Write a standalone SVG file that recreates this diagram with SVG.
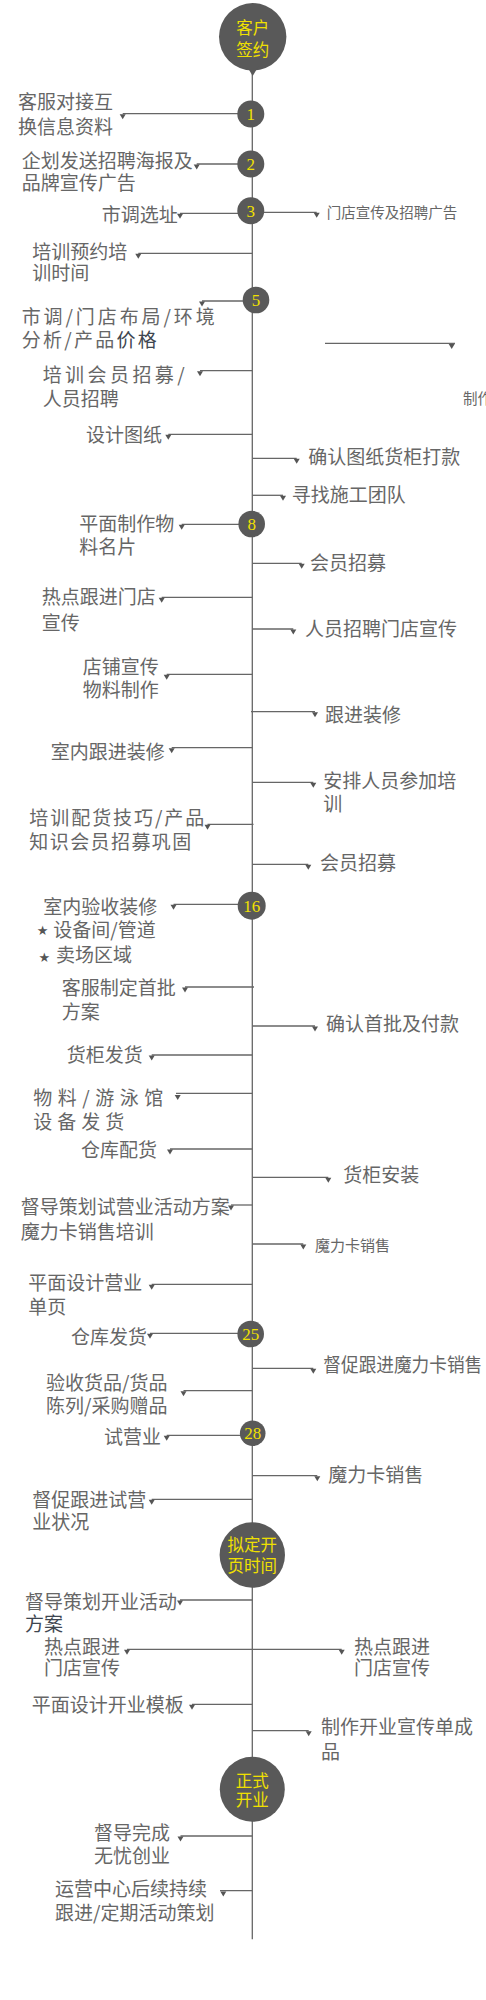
<svg xmlns="http://www.w3.org/2000/svg" width="486" height="2000" viewBox="0 0 486 2000">
<style>
.t{font-family:"Noto Sans CJK SC","Noto Sans CJK JP",sans-serif;font-size:19px;fill:#666}
.s{font-size:14.5px}
.m15{font-size:15px}
.d{fill:#3e4650}
.c{fill:#595959}
.n{font-family:"Liberation Serif","Times New Roman",serif;font-size:17px;fill:#f0e000;text-anchor:middle}
.y{font-family:"Noto Sans CJK SC","Noto Sans CJK JP",sans-serif;font-size:16.5px;fill:#f0e000;text-anchor:middle}
.l{stroke:#666;stroke-width:1.3;fill:none}
.a{marker-end:url(#m)}
.b{marker-start:url(#m)}
.st{font-family:"DejaVu Sans",sans-serif;font-size:13px;fill:#555;text-anchor:middle}
</style>
<defs>
<marker id="m" markerUnits="userSpaceOnUse" markerWidth="8" markerHeight="8" viewBox="0 0 8 8" refX="4" refY="0.5" orient="0">
<path d="M1,1 L7,1 L4,6 z" fill="#555"/>
</marker>
</defs>
<g id="connectors">
<line class="l" x1="252.3" y1="70" x2="252.3" y2="1939.3"/>
<line class="l a" x1="252.3" y1="113.7" x2="122.7" y2="113.7"/>
<line class="l a" x1="252.3" y1="164" x2="196.7" y2="164"/>
<line class="l a" x1="252.3" y1="213.3" x2="180" y2="213.3"/>
<line class="l a" x1="252.3" y1="212.3" x2="316.7" y2="212.3"/>
<line class="l a" x1="252.3" y1="253.3" x2="138.3" y2="253.3"/>
<line class="l a" x1="252.3" y1="301" x2="202" y2="301"/>
<line class="l" x1="325" y1="343.3" x2="455" y2="343.3"/>
<path d="M448.7,344 L454.7,344 L451.7,349 z" fill="#555"/>
<line class="l a" x1="252.3" y1="370.7" x2="200" y2="370.7"/>
<line class="l a" x1="252.3" y1="434.3" x2="168.3" y2="434.3"/>
<line class="l a" x1="252.3" y1="458.3" x2="296.7" y2="458.3"/>
<line class="l a" x1="252.3" y1="495.3" x2="283" y2="495.3"/>
<line class="l a" x1="252.3" y1="524.3" x2="181.7" y2="524.3"/>
<line class="l a" x1="252.3" y1="563.3" x2="301.7" y2="563.3"/>
<line class="l a" x1="252.3" y1="597.3" x2="161.7" y2="597.3"/>
<line class="l a" x1="252.3" y1="629" x2="293.3" y2="629"/>
<line class="l a" x1="252.3" y1="674.3" x2="166.7" y2="674.3"/>
<line class="l a" x1="251" y1="711.7" x2="315" y2="711.7"/>
<line class="l a" x1="252.3" y1="747.7" x2="171.7" y2="747.7"/>
<line class="l a" x1="252.3" y1="782.3" x2="313.3" y2="782.3"/>
<line class="l a" x1="253.5" y1="824.3" x2="207.5" y2="824.3"/>
<line class="l a" x1="252.3" y1="864.3" x2="308.3" y2="864.3"/>
<line class="l a" x1="252.3" y1="904.3" x2="173.5" y2="904.3"/>
<line class="l a" x1="254" y1="987" x2="185" y2="987"/>
<line class="l a" x1="252.3" y1="1026" x2="315" y2="1026"/>
<line class="l a" x1="252.3" y1="1055" x2="151.7" y2="1055"/>
<line class="l" x1="252.3" y1="1093.3" x2="176" y2="1093.3"/>
<path d="M174.7,1095 L180.7,1095 L177.7,1100 z" fill="#555"/>
<line class="l a" x1="252.3" y1="1149" x2="170" y2="1149"/>
<line class="l a" x1="252.3" y1="1177.3" x2="328.3" y2="1177.3"/>
<line class="l a" x1="252.3" y1="1205" x2="231" y2="1205"/>
<line class="l a" x1="252.3" y1="1244" x2="303.3" y2="1244"/>
<line class="l a" x1="252.3" y1="1284.3" x2="151.7" y2="1284.3"/>
<line class="l a" x1="252.3" y1="1333.3" x2="150" y2="1333.3"/>
<line class="l a" x1="252.3" y1="1368.3" x2="313.3" y2="1368.3"/>
<line class="l a" x1="252.3" y1="1390.7" x2="183.5" y2="1390.7"/>
<line class="l a" x1="252.3" y1="1435.3" x2="166.7" y2="1435.3"/>
<line class="l a" x1="252.3" y1="1475.7" x2="317.3" y2="1475.7"/>
<line class="l a" x1="252.3" y1="1499.3" x2="151.7" y2="1499.3"/>
<line class="l a" x1="252.3" y1="1600" x2="180" y2="1600"/>
<line class="l a b" x1="127" y1="1649.3" x2="341.7" y2="1649.3"/>
<line class="l a" x1="252.3" y1="1704.3" x2="192" y2="1704.3"/>
<line class="l a" x1="252.3" y1="1730.7" x2="308.7" y2="1730.7"/>
<line class="l a" x1="252.3" y1="1836" x2="180.5" y2="1836"/>
<line class="l" x1="252.3" y1="1890.7" x2="220" y2="1890.7"/>
<path d="M220.3,1891.5 L226.3,1891.5 L223.3,1896.5 z" fill="#555"/>
</g>
<g id="node-start">
<circle class="c" cx="252.7" cy="36.8" r="33.7"/>
<polygon class="c" points="246.7,66 258.7,66 252.7,76"/>
<text class="y" x="252.7" y="34">客户</text>
<text class="y" x="252.7" y="56">签约</text>
</g>
<g id="node-1">
<circle class="c" cx="250.8" cy="114" r="13.5"/>
<text class="n" x="250.8" y="120">1</text>
<text class="t" x="18" y="108.7">客服对接互</text>
<text class="t" x="18" y="133.7">换信息资料</text>
</g>
<g id="node-2">
<circle class="c" cx="250.8" cy="164" r="13.5"/>
<text class="n" x="250.8" y="170">2</text>
<text class="t" x="21.7" y="168">企划发送招聘海报及</text>
<text class="t" x="21.7" y="190.3">品牌宣传广告</text>
</g>
<g id="node-3">
<circle class="c" cx="250.8" cy="210.7" r="13.5"/>
<text class="n" x="250.8" y="216.7">3</text>
<text class="t" x="101.7" y="222">市调选址</text>
<text class="t s" x="326.7" y="217.8">门店宣传及招聘广告</text>
</g>
<g id="task-training-booking">
<text class="t" x="32.3" y="258.7">培训预约培</text>
<text class="t" x="32.3" y="279.7">训时间</text>
</g>
<g id="node-5">
<circle class="c" cx="256" cy="300" r="13.3"/>
<text class="n" x="256" y="306">5</text>
<text class="t" x="21.7" y="323.7" textLength="193" lengthAdjust="spacing">市调/门店布局/环境</text>
<text class="t" x="21.7" y="347" textLength="135" lengthAdjust="spacing">分析/产品<tspan class="d">价格</tspan></text>
</g>
<g id="task-make">
<text class="t s" x="463" y="403.5">制作</text>
</g>
<g id="task-member-recruit">
<text class="t" x="42.7" y="382" textLength="142" lengthAdjust="spacing">培训会员招募/</text>
<text class="t" x="42.7" y="406.3">人员招聘</text>
</g>
<g id="task-design">
<text class="t" x="86" y="442">设计图纸</text>
</g>
<g id="task-confirm-drawings">
<text class="t" x="308.3" y="463.7">确认图纸货柜打款</text>
</g>
<g id="task-find-team">
<text class="t" x="291.7" y="502">寻找施工团队</text>
</g>
<g id="node-8">
<circle class="c" cx="251.7" cy="524" r="13.3"/>
<text class="n" x="251.7" y="530">8</text>
<text class="t" x="79.3" y="531">平面制作物</text>
<text class="t" x="79.3" y="553.7">料名片</text>
</g>
<g id="task-member-1">
<text class="t" x="310" y="570.3">会员招募</text>
</g>
<g id="task-hotspot">
<text class="t" x="41.7" y="604.3">热点跟进门店</text>
<text class="t" x="41.7" y="630.3">宣传</text>
</g>
<g id="task-staff-recruit">
<text class="t" x="305" y="636">人员招聘门店宣传</text>
</g>
<g id="task-store-promo">
<text class="t" x="82.7" y="673.7">店铺宣传</text>
<text class="t" x="82.7" y="697">物料制作</text>
</g>
<g id="task-follow-decor">
<text class="t" x="325" y="722">跟进装修</text>
</g>
<g id="task-indoor-decor">
<text class="t" x="50.7" y="758.7">室内跟进装修</text>
</g>
<g id="task-arrange-training">
<text class="t" x="323.3" y="787.7">安排人员参加培</text>
<text class="t" x="323.3" y="811">训</text>
</g>
<g id="task-training-skills">
<text class="t" x="29.3" y="825.3" textLength="175" lengthAdjust="spacing">培训配货技巧/产品</text>
<text class="t" x="29.3" y="848.7" textLength="162" lengthAdjust="spacing">知识会员招募巩固</text>
</g>
<g id="task-member-2">
<text class="t" x="320" y="870.3">会员招募</text>
</g>
<g id="node-16">
<circle class="c" cx="251.7" cy="905.7" r="14"/>
<text class="n" x="251.7" y="911.7">16</text>
<text class="t" x="43.3" y="913.7">室内验收装修</text>
<text class="st" x="42.7" y="934.5">★</text>
<text class="t" x="53.3" y="937">设备间/管道</text>
<text class="st" x="44.3" y="962">★</text>
<text class="t" x="56" y="962">卖场区域</text>
</g>
<g id="task-first-batch">
<text class="t" x="61.7" y="995.3">客服制定首批</text>
<text class="t" x="61.7" y="1018.7">方案</text>
</g>
<g id="task-confirm-first">
<text class="t" x="326" y="1030.5">确认首批及付款</text>
</g>
<g id="task-cabinet-ship">
<text class="t" x="66.7" y="1062">货柜发货</text>
</g>
<g id="task-material-ship">
<text class="t" x="33.3" y="1105.3" textLength="130" lengthAdjust="spacing">物料/游泳馆</text>
<text class="t" x="33.3" y="1128.7" textLength="91" lengthAdjust="spacing">设备发货</text>
</g>
<g id="task-warehouse">
<text class="t" x="81" y="1157">仓库配货</text>
</g>
<g id="task-cabinet-install">
<text class="t" x="343.3" y="1182">货柜安装</text>
</g>
<g id="task-trial-plan">
<text class="t" x="20.7" y="1213.7">督导策划试营业活动方案</text>
<text class="t" x="20.7" y="1238.7">魔力卡销售培训</text>
</g>
<g id="task-card-sale-1">
<text class="t m15" x="315" y="1250.7">魔力卡销售</text>
</g>
<g id="task-flyer">
<text class="t" x="28.3" y="1290.3">平面设计营业</text>
<text class="t" x="28.3" y="1314.3">单页</text>
</g>
<g id="node-25">
<circle class="c" cx="250.7" cy="1334" r="13.3"/>
<text class="n" x="250.7" y="1340">25</text>
<text class="t" x="71" y="1343.7">仓库发货</text>
</g>
<g id="task-urge-card">
<text class="t" x="323.3" y="1372" textLength="159" lengthAdjust="spacingAndGlyphs">督促跟进魔力卡销售</text>
</g>
<g id="task-inspect">
<text class="t" x="46" y="1389.7">验收货品/货品</text>
<text class="t" x="46" y="1412.7">陈列/采购赠品</text>
</g>
<g id="node-28">
<circle class="c" cx="252.7" cy="1433.3" r="12.8"/>
<text class="n" x="252.7" y="1439.3">28</text>
<text class="t" x="104" y="1444.3">试营业</text>
</g>
<g id="task-card-sale-2">
<text class="t" x="328.3" y="1482">魔力卡销售</text>
</g>
<g id="task-urge-trial">
<text class="t" x="32.3" y="1507">督促跟进试营</text>
<text class="t" x="32.3" y="1529.3">业状况</text>
</g>
<g id="node-opening-date">
<circle class="c" cx="252.3" cy="1555" r="32.7"/>
<text class="y" x="252.3" y="1551">拟定开</text>
<text class="y" x="252.3" y="1572">页时间</text>
</g>
<g id="task-opening-plan">
<text class="t" x="25" y="1608.7">督导策划开业活动</text>
<text class="t d" x="25" y="1631">方案</text>
</g>
<g id="task-hotspot-left">
<text class="t" x="44" y="1653.7">热点跟进</text>
<text class="t" x="44" y="1675.3">门店宣传</text>
</g>
<g id="task-hotspot-right">
<text class="t" x="354" y="1653.7">热点跟进</text>
<text class="t" x="354" y="1675.3">门店宣传</text>
</g>
<g id="task-opening-template">
<text class="t" x="31.7" y="1712">平面设计开业模板</text>
</g>
<g id="task-opening-flyer">
<text class="t" x="321" y="1733.7">制作开业宣传单成</text>
<text class="t" x="321" y="1758.7">品</text>
</g>
<g id="node-opening">
<circle class="c" cx="252.3" cy="1789.3" r="32.5"/>
<text class="y" x="252.3" y="1787">正式</text>
<text class="y" x="252.3" y="1806">开业</text>
</g>
<g id="task-finish">
<text class="t" x="94" y="1840.3">督导完成</text>
<text class="t" x="94" y="1863">无忧创业</text>
</g>
<g id="task-ongoing">
<text class="t" x="55" y="1896.3">运营中心后续持续</text>
<text class="t" x="55" y="1920.3">跟进/定期活动策划</text>
</g>
</svg>
